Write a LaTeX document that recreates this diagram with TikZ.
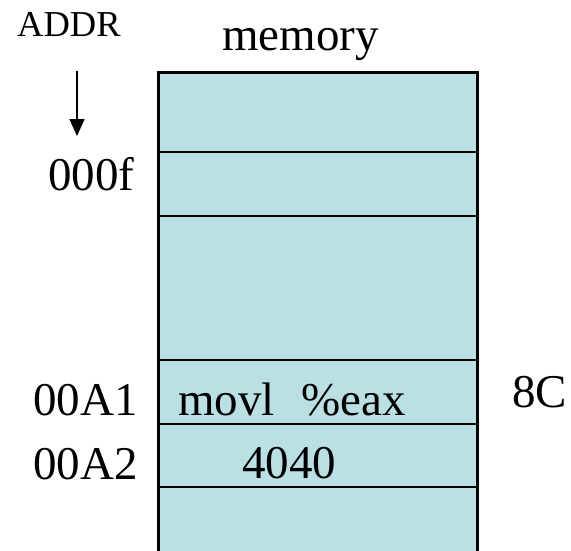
\documentclass[tikz,border=0pt]{standalone}
\usepackage{fontspec}
\setmainfont{Liberation Serif}
\usetikzlibrary{arrows.meta}
\definecolor{cellfill}{RGB}{187,224,227}
\tikzset{
  big/.style={inner sep=0pt, anchor=base west, font=\fontsize{47}{56}\selectfont},
  small/.style={inner sep=0pt, anchor=base west, font=\fontsize{36.5}{44}\selectfont},
  cellline/.style={line width=2.5pt},
  frameline/.style={line width=3pt},
  addrarrow/.style={line width=1.5pt, -{Triangle[length=17pt,width=15pt]}}
}
\begin{document}
\begin{tikzpicture}[x=1pt,y=-1pt]
  \useasboundingbox (0,0) rectangle (571,550);
  \clip (0,0) rectangle (571,550);

  % memory column
  \fill[cellfill] (158,72) rectangle (477,560);
  \draw[frameline] (158,560) -- (158,72) -- (477,72) -- (477,560);
  \draw[cellline] (158,152) -- (477,152);
  \draw[cellline] (158,216) -- (477,216);
  \draw[cellline] (158,360) -- (477,360);
  \draw[cellline] (158,424) -- (477,424);
  \draw[cellline] (158,487) -- (477,487);

  % labels
  \node[small] (addr) at (17,36) {ADDR};
  \node[big] (mem) at (222,50) {memory};
  \node[big] (a0f) at (48,190) {000f};
  \node[big] (aA1) at (33,415) {00A1};
  \node[big] (aA2) at (33,479) {00A2};
  \node[big] (ins) at (178,415) {movl\hspace{27pt}\%eax};
  \node[big] (val) at (242,478) {4040};
  \node[big] (op) at (512,407) {8C};

  % address direction arrow
  \coordinate (arrtop) at (77,71);
  \coordinate (arrbot) at (77,136);
  \draw[addrarrow] (arrtop) -- (arrbot);
\end{tikzpicture}
\end{document}
